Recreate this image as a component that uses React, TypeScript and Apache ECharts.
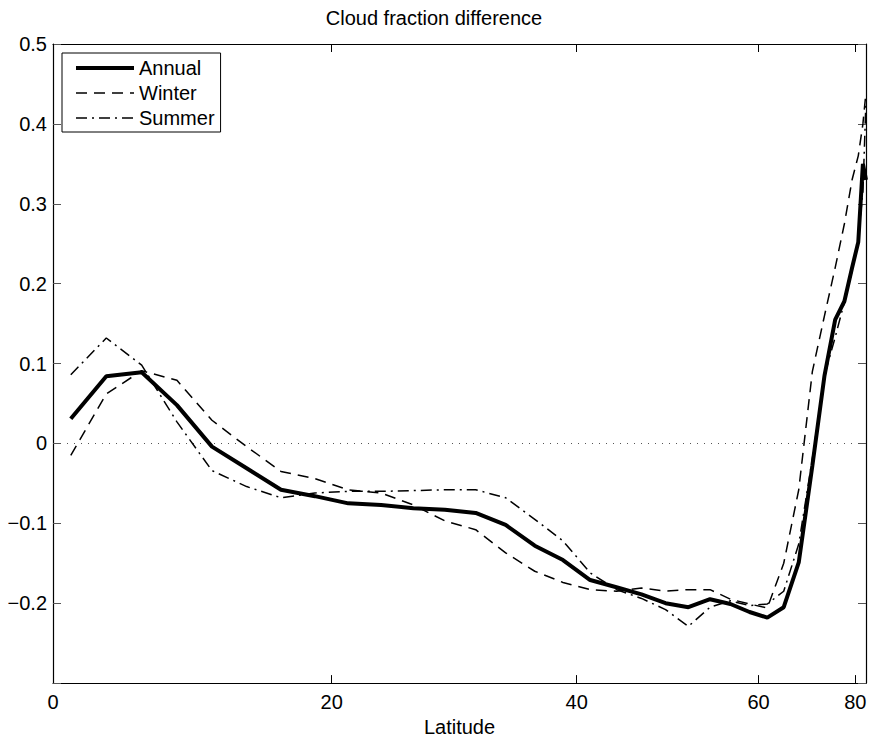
import React, { useEffect, useRef } from "react";
import * as echarts from "echarts";

// Latitude of each grid point (degrees)
const LATS = [
  1.25, 3.75, 6.25, 8.75, 11.25, 13.75, 16.25, 18.75, 21.25, 23.75, 26.25, 28.75,
  31.25, 33.75, 36.25, 38.75, 41.25, 43.75, 46.25, 48.75, 51.25, 53.75, 56.25, 58.75,
  61.25, 63.75, 66.25, 68.75, 71.25, 73.75, 76.25, 78.75, 81.25, 83.75, 86.25,
];

const ANNUAL = [
  0.031, 0.084, 0.089, 0.048, -0.004, -0.031, -0.058, -0.066, -0.075, -0.077, -0.081, -0.083,
  -0.087, -0.102, -0.128, -0.146, -0.171, -0.18, -0.189, -0.2, -0.205, -0.195, -0.201, -0.211,
  -0.218, -0.205, -0.149, -0.028, 0.085, 0.155, 0.178, 0.22, 0.252, 0.35, 0.33,
];

const WINTER = [
  -0.015, 0.062, 0.091, 0.079, 0.029, -0.004, -0.035, -0.044, -0.058, -0.062, -0.077, -0.097,
  -0.108, -0.137, -0.16, -0.174, -0.183, -0.185, -0.181, -0.185, -0.183, -0.183, -0.195, -0.201,
  -0.206, -0.15, -0.058, 0.09, 0.16, 0.22, 0.275, 0.33, 0.36, 0.4, 0.44,
];

const SUMMER = [
  0.086, 0.132, 0.098, 0.027, -0.034, -0.054, -0.068, -0.062, -0.06, -0.06, -0.059, -0.058,
  -0.058, -0.068, -0.095, -0.122, -0.162, -0.183, -0.194, -0.208, -0.229, -0.205, -0.197, -0.203,
  -0.201, -0.185, -0.126, -0.019, 0.085, 0.133, 0.177, 0.216, 0.26, 0.314, 0.43,
];

const X_TICK_LATS = [0, 20, 40, 60, 80];
const X_MAX_LAT = 86.25;

const TITLE = "Cloud fraction difference";
const X_NAME = "Latitude";

const FONT = "'Liberation Sans', Arial, Helvetica, sans-serif";
const rad = (d: number) => (d * Math.PI) / 180;

export default function App() {
  const ref = useRef<HTMLDivElement>(null);

  useEffect(() => {
    if (!ref.current) return;
    const chart = echarts.init(ref.current, null, { renderer: "svg" });

    const toData = (vals: number[]) => LATS.map((l, i) => [Math.sin(rad(l)), vals[i]]);
    const tickVals = X_TICK_LATS.map((d) => Math.sin(rad(d)));
    const xMax = Math.sin(rad(X_MAX_LAT));

    const xCommon = {
      type: "value",
      min: 0,
      max: xMax,
      splitLine: { show: false },
      axisLine: { show: true, onZero: false, lineStyle: { color: "#000", width: 1.2 } },
      axisTick: {
        show: true,
        inside: true,
        length: 8,
        customValues: tickVals,
        lineStyle: { color: "#000", width: 1 },
      },
    };

    const yFmt = (v: number) => {
      const r = Math.round(v * 10) / 10;
      if (r < -0.25) return "";
      if (r === 0) return "0";
      return r < 0 ? "\u2212" + Math.abs(r) : String(r);
    };

    const yCommon = {
      type: "value",
      min: -0.3,
      max: 0.5,
      interval: 0.1,
      splitLine: { show: false },
      axisLine: { show: true, onZero: false, lineStyle: { color: "#000", width: 1.2 } },
      axisTick: { show: true, inside: true, length: 8, lineStyle: { color: "#555", width: 1 } },
    };

    chart.setOption({
      animation: false,
      backgroundColor: "#fff",
      textStyle: { fontFamily: FONT },
      grid: { left: 53, right: 4, top: 44, bottom: 56, containLabel: false },
      graphic: [
        {
          type: "text",
          x: 434,
          y: 18,
          style: {
            text: TITLE,
            fontSize: 20,
            fontFamily: FONT,
            fill: "#000",
            textAlign: "center",
            textVerticalAlign: "middle",
          },
        },
      ],
      legend: {
        data: ["Annual", "Winter", "Summer"],
        orient: "vertical",
        left: 62,
        top: 53,
        itemWidth: 58,
        itemHeight: 14,
        itemGap: 5,
        padding: [5, 6, 4, 12],
        borderColor: "#000",
        borderWidth: 1,
        backgroundColor: "#fff",
        itemStyle: { opacity: 0, color: "transparent", borderWidth: 0 },
        lineStyle: { width: "inherit", type: "inherit", color: "#000" },
        textStyle: { fontSize: 20, color: "#000", fontFamily: FONT },
        selectedMode: false,
      },
      xAxis: [
        {
          ...xCommon,
          position: "bottom",
          name: X_NAME,
          nameLocation: "middle",
          nameGap: 32,
          nameTextStyle: { fontSize: 20, color: "#000", fontFamily: FONT },
          axisLabel: {
            show: true,
            customValues: tickVals,
            margin: 9,
            fontSize: 20,
            color: "#000",
            fontFamily: FONT,
            formatter: (v: number) => String(Math.round((Math.asin(Math.min(1, v)) * 180) / Math.PI)),
          },
        },
        {
          ...xCommon,
          position: "top",
          axisLabel: { show: false },
        },
      ],
      yAxis: [
        {
          ...yCommon,
          position: "left",
          axisLabel: {
            show: true,
            margin: 6,
            fontSize: 20,
            color: "#000",
            fontFamily: FONT,
            formatter: yFmt,
          },
        },
        {
          ...yCommon,
          position: "right",
          axisLabel: { show: false },
        },
      ],
      series: [
        {
          name: "Annual",
          type: "line",
          data: toData(ANNUAL),
          symbol: "none",
          color: "#000",
          lineStyle: { color: "#000", width: 4, type: "solid" },
          z: 3,
          markLine: {
            silent: true,
            symbol: ["none", "none"],
            label: { show: false },
            lineStyle: { color: "#555", width: 1, type: [1, 6] },
            data: [{ yAxis: 0 }],
            z: 1,
          },
        },
        {
          name: "Winter",
          type: "line",
          data: toData(WINTER),
          symbol: "none",
          color: "#000",
          lineStyle: { color: "#000", width: 1.5, type: [11, 7] },
          z: 2,
        },
        {
          name: "Summer",
          type: "line",
          data: toData(SUMMER),
          symbol: "none",
          color: "#000",
          lineStyle: { color: "#000", width: 1.5, type: [11, 5, 2, 5] },
          z: 2,
        },
      ],
    });

    return () => chart.dispose();
  }, []);

  return (
    <div
      ref={ref}
      style={{ position: "fixed", left: 0, top: 0, width: 870, height: 742, background: "#fff" }}
    />
  );
}
